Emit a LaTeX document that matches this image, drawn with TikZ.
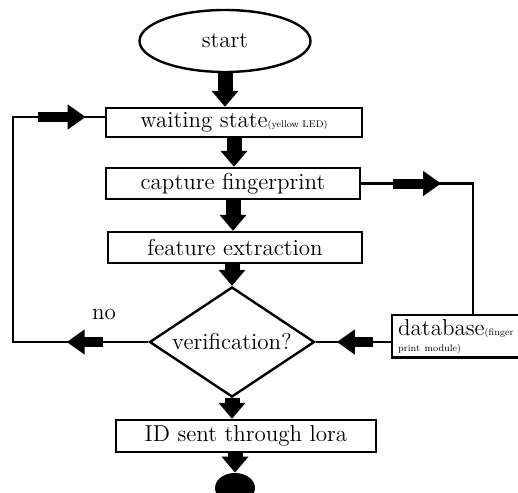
\documentclass[tikz,border=0pt]{standalone}
\usepackage{graphicx}
\usetikzlibrary{shapes.geometric,arrows.meta,decorations.markings}
\newcommand\smalltext[1]{\scalebox{0.6}{\fontsize{8}{9}\selectfont #1}}
\begin{document}
\begin{tikzpicture}[
    x=0.5pt, y=-0.5pt, % pixel grid of the sketch
    every node/.style = {font=\fontsize{11.5}{13}\selectfont},
    box/.style = {rectangle, draw=black, line width=1.2pt, minimum width=127pt, minimum height=15.5pt, inner sep=1pt},
    term/.style = {ellipse, draw=black, line width=1.2pt, minimum width=85.5pt, minimum height=31pt},
    decision/.style = {diamond, aspect=1.5, draw=black, line width=1.2pt, minimum width=82.5pt, minimum height=55pt, inner sep=0pt}
    ]
    \tikzstyle{link} = [draw=black, line width=1.1pt]
    \tikzstyle{fat} = [line width=7.5pt, -{Triangle[length=8pt, width=13pt]}]
    \tikzset{midarrow/.style 2 args = {postaction={decorate, decoration={markings,
        mark=at position #1 with {\draw[line width=5pt, -{Triangle[length=9pt, width=12pt]}] (-#2,0) -- (#2,0);}}}}}
    \useasboundingbox (0,0) rectangle (518,492);
    \clip (0,0) rectangle (518,492);

    \node[term] (start) at (225,41) {start};
    \node[box, minimum width=128pt, minimum height=14.5pt] (wait) at (234,122.5) {waiting state\smalltext{(yellow LED)}};
    \node[box] (capt) at (233,183.5) {capture fingerprint};
    \node[box] (feat) at (235,247.5) {feature extraction};
    \node[decision] (verif) at (232,342) {verification?};
    \node[box, minimum width=130pt, minimum height=16pt] (id) at (246,436) {ID sent through lora};
    \node[ellipse, fill=black, minimum width=20pt, minimum height=15pt, inner sep=0pt] (stop) at (235,488) {};
    \node[box, anchor=north west, minimum width=80pt, minimum height=19pt, text width=74pt, align=left, inner sep=2pt] (db) at (391,314) {database\smalltext{(finger}\\[-5pt]\smalltext{print module)}};
    \node (no) at (104,314) {no};

    \draw[fat] (start.south) -- (start.south |- wait.north);
    \draw[fat] (wait.south) -- (wait.south |- capt.north);
    \draw[fat] (capt.south) -- (capt.south |- feat.north);
    \draw[fat] (verif.north |- feat.south) -- (verif.north);
    \draw[fat] (verif.south) -- (verif.south |- id.north);
    \draw[fat] (stop.north |- id.south) -- (stop.north);

    % back to waiting
    \coordinate (lb) at (13,342);
    \coordinate (lt) at (13,117);
    \draw[link] (verif.west) -- (lb) -- (lt) -- (lt -| wait.west);
    \path[midarrow={0.47}{9pt}] (verif.west) -- (lb);
    \path[midarrow={0.53}{12pt}] (lt) -- (lt -| wait.west);

    % database side
    \coordinate (rt) at (473,183.5);
    \draw[link] (capt.east) -- (rt) -- (rt |- db.north);
    \path[midarrow={0.5}{12pt}] (capt.east) -- (rt);
    \draw[link] (db.west |- verif.east) -- (verif.east);
    \path[midarrow={0.48}{9pt}] (db.west |- verif.east) -- (verif.east);
\end{tikzpicture}
\end{document}
